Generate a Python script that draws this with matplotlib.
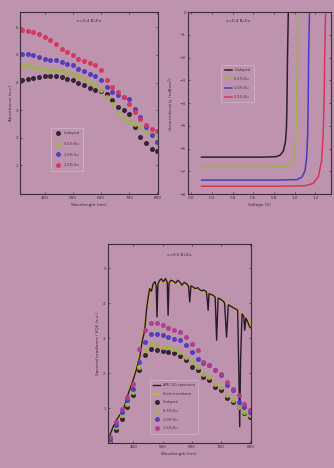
import matplotlib
matplotlib.use('Agg')
from matplotlib import pyplot as plt

# Farben und Grundeinstellungen
hintergrund = '#bd93ae'
rahmen = '#3e2c3c'
farben = ['#2e1e2c', '#9fb24a', '#4a3cc0', '#d8345a']
plt.rcParams['font.family'] = ['DejaVu Sans']

# Daten: Absorption (oben links)
wellenlaenge = [320, 340, 360, 380, 400, 420, 440, 460, 480, 500, 520, 540, 560,
                580, 600, 620, 640, 660, 680, 700, 720, 740, 760, 780, 800]
abs_serien = {
    'Undoped': [4.08, 4.14, 4.18, 4.20, 4.22, 4.22, 4.22, 4.20, 4.14, 4.08, 3.98, 3.90, 3.81,
                3.74, 3.69, 3.60, 3.35, 3.11, 2.99, 2.87, 2.39, 2.03, 1.79, 1.60, 1.52],
    '0.5% Eu': [4.62, 4.59, 4.56, 4.53, 4.50, 4.47, 4.44, 4.41, 4.34, 4.30, 4.22, 4.14, 4.02,
                3.90, 3.72, 3.48, 3.23, 2.93, 2.69, 2.57, 2.51, 2.39, 2.21, 2.09, 2.03],
    '1.0% Eu': [5.05, 5.02, 4.99, 4.93, 4.87, 4.83, 4.80, 4.74, 4.68, 4.62, 4.50, 4.42, 4.32,
                4.22, 4.08, 3.84, 3.66, 3.54, 3.48, 3.42, 3.05, 2.75, 2.39, 2.09, 1.85],
    '1.5% Eu': [5.92, 5.87, 5.83, 5.77, 5.65, 5.55, 5.41, 5.23, 5.11, 4.99, 4.87, 4.78, 4.71,
                4.62, 4.44, 4.08, 3.84, 3.66, 3.48, 3.23, 2.93, 2.69, 2.45, 2.33, 2.24],
}

# Daten: J-V Kennlinien (oben rechts)
jv_kurven = {
    'Undoped': ([0.10, 0.40, 0.70, 0.82, 0.86, 0.89, 0.91, 0.92, 0.925, 0.93, 0.94],
                [-6.37, -6.37, -6.37, -6.35, -6.28, -6.10, -5.70, -5.10, -4.00, -2.00, 0.50]),
    '0.5% Eu': ([0.10, 0.40, 0.80, 0.92, 0.96, 0.99, 1.005, 1.015, 1.02, 1.025, 1.035],
                [-6.81, -6.81, -6.81, -6.79, -6.70, -6.45, -6.00, -5.00, -3.50, -1.50, 0.50]),
    '1.0% Eu': ([0.10, 0.40, 0.80, 1.02, 1.07, 1.10, 1.115, 1.125, 1.13, 1.135, 1.145],
                [-7.38, -7.38, -7.38, -7.36, -7.25, -6.95, -6.40, -5.40, -3.80, -1.60, 0.50]),
    '1.5% Eu': ([0.10, 0.40, 0.80, 1.10, 1.18, 1.23, 1.26, 1.275, 1.285, 1.29, 1.30],
                [-7.65, -7.65, -7.65, -7.63, -7.52, -7.20, -6.50, -5.30, -3.60, -1.80, 0.50]),
}

# Daten: Sonnenspektrum und EQE (unten)
spektrum_nm = [313, 330, 345, 365, 380, 399, 410, 422, 430, 439, 445, 451, 456, 462, 468,
               474, 478, 481, 484, 490, 496, 503, 510, 516, 519, 522, 528, 536, 545, 552,
               559, 566, 574, 582, 589, 593, 597, 604, 612, 620, 627, 635, 642, 650, 653,
               656, 659, 666, 673, 680, 685, 690, 696, 705, 712, 719, 725, 733, 741, 750,
               757, 761, 764, 767, 772, 778, 781, 785, 790, 798, 802]
spektrum_w = [0.09, 0.45, 0.70, 0.94, 1.35, 1.80, 2.10, 2.47, 2.90, 3.23, 3.80, 4.18, 4.42,
              4.35, 4.56, 4.62, 4.50, 3.61, 4.55, 4.66, 4.70, 4.62, 4.71, 4.60, 3.66, 4.58,
              4.66, 4.64, 4.58, 4.66, 4.61, 4.52, 4.60, 4.56, 4.49, 4.04, 4.50, 4.47, 4.42,
              4.45, 4.39, 4.36, 4.38, 4.33, 4.10, 3.80, 4.28, 4.25, 4.23, 4.18, 2.95, 4.15,
              4.13, 4.08, 4.02, 3.04, 3.96, 3.92, 3.88, 3.84, 3.80, 2.00, 0.47, 2.40, 3.70,
              3.62, 3.23, 3.58, 3.50, 3.33, 3.30]
strahlung_nm = [313, 340, 370, 400, 425, 445, 460, 480, 500, 530, 560, 600, 640, 680, 720,
                760, 790, 802]
strahlung_w = [0.15, 0.60, 1.10, 1.90, 2.70, 3.70, 4.45, 4.55, 4.62, 4.60, 4.55, 4.45, 4.32,
               4.18, 4.00, 3.78, 3.55, 3.40]
eqe_serien = {
    'Undoped': [0.04, 0.37, 0.70, 1.04, 1.37, 2.09, 2.51, 2.70, 2.66, 2.64, 2.61, 2.58, 2.49,
                2.37, 2.18, 2.09, 1.89, 1.80, 1.61, 1.51, 1.28, 1.18, 1.04, 0.85, 0.75],
    '0.5% Eu': [0.09, 0.47, 0.80, 1.13, 1.47, 2.18, 2.66, 2.85, 2.80, 2.75, 2.75, 2.70, 2.61,
                2.47, 2.32, 2.18, 1.99, 1.89, 1.70, 1.61, 1.37, 1.23, 1.04, 0.90, 0.80],
    '1.0% Eu': [0.13, 0.51, 0.90, 1.23, 1.56, 2.32, 2.90, 3.13, 3.13, 3.09, 3.04, 2.99, 2.94,
                2.80, 2.61, 2.42, 2.28, 2.23, 2.09, 1.94, 1.66, 1.51, 1.18, 1.04, 0.90],
    '1.5% Eu': [0.18, 0.61, 0.99, 1.32, 1.70, 2.70, 3.23, 3.44, 3.44, 3.37, 3.30, 3.25, 3.18,
                3.04, 2.85, 2.66, 2.32, 2.23, 2.09, 1.97, 1.75, 1.56, 1.37, 1.13, 0.94],
}
eqe_farben = ['#2e1e2c', '#9fb24a', '#4a3cc0', '#b03c8c']

fs = 3


def achse_stylen(ax, titel, xlabel, ylabel):
    ax.set_facecolor(hintergrund)
    for s in ax.spines.values():
        s.set_color(rahmen)
        s.set_linewidth(0.8)
    ax.tick_params(direction='in', length=1.5, width=0.5, labelsize=fs,
                   colors=rahmen, top=True, right=True, pad=1.5)
    ax.set_xlabel(xlabel, fontsize=fs, color=rahmen, labelpad=2)
    ax.set_ylabel(ylabel, fontsize=fs, color=rahmen, labelpad=2)
    ax.set_title(titel, fontsize=fs, color=rahmen, y=0.9)


def legende(ax, loc, anchor=None, abstand=1.5, handles=None):
    if handles is None:
        handles, _ = ax.get_legend_handles_labels()
    leg = ax.legend(handles=handles, loc=loc, bbox_to_anchor=anchor, fontsize=2.5,
                    frameon=True, facecolor=hintergrund, edgecolor='#d9c4d2',
                    framealpha=1, handlelength=2, borderpad=1.0, labelspacing=abstand)
    leg.get_frame().set_linewidth(0.4)
    for t in leg.get_texts():
        t.set_color(rahmen)


fig = plt.figure(figsize=(3.34, 4.68), dpi=100)
fig.patch.set_facecolor(hintergrund)

# oben links: Absorption
ax1 = fig.add_axes([0.060, 0.585, 0.413, 0.389])
for (name, werte), f in zip(abs_serien.items(), farben):
    ax1.plot(wellenlaenge, werte, 'o', color=f, markersize=2.6, label=name, alpha=0.9)
ax1.set_xlim(313, 802)
ax1.set_ylim(-0.05, 6.55)
ax1.set_xticks([400, 500, 600, 700, 800])
ax1.set_yticks([1, 2, 3, 4, 5, 6])
achse_stylen(ax1, 'x=0.4 Bi-Eu', 'Wavelength (nm)', 'Absorbance (a.u.)')
legende(ax1, 'lower left', (0.21, 0.12), 1.9)

# oben rechts: J-V
ax2 = fig.add_axes([0.563, 0.585, 0.428, 0.389])
for (name, (v, j)), f in zip(jv_kurven.items(), farben):
    ax2.plot(v, j, '-', color=f, linewidth=1.1, label=name)
ax2.set_xlim(-0.03, 1.35)
ax2.set_ylim(-8, 0)
ax2.set_xticks([0.0, 0.2, 0.4, 0.6, 0.8, 1.0, 1.2])
ax2.set_yticks(range(-8, 1))
achse_stylen(ax2, 'x=0.4 Bi-Eu', 'Voltage (V)', 'Current density (mA/cm$^2$)')
ax2.title.set_position((0.35, 0.9))
legende(ax2, 'upper left', (0.22, 0.72), 1.4)

# unten: Spektrum + EQE
ax3 = fig.add_axes([0.323, 0.053, 0.428, 0.425])
gelb, = ax3.plot(strahlung_nm, strahlung_w, '-', color='#c9b43c', linewidth=1.2,
                 label='Solar irradiance')
schwarz, = ax3.plot(spektrum_nm, spektrum_w, '-', color='#2a1a26', linewidth=1.0,
                    label='AM1.5G spectrum')
punkte = []
for (name, werte), f in zip(eqe_serien.items(), eqe_farben):
    p, = ax3.plot(wellenlaenge, werte, 'o', color=f, markersize=2.6, label=name, alpha=0.9)
    punkte.append(p)
ax3.set_xlim(313, 802)
ax3.set_ylim(0, 5.69)
ax3.set_xticks([400, 500, 600, 700, 800])
ax3.set_yticks([1, 2, 3, 4, 5])
achse_stylen(ax3, 'x=0.5 Bi-Eu', 'Wavelength (nm)', 'Spectral irradiance / EQE (a.u.)')
legende(ax3, 'lower left', (0.28, 0.04), 1.3, [schwarz, gelb] + punkte)

fig.savefig('out.png', dpi=100, facecolor=hintergrund)
